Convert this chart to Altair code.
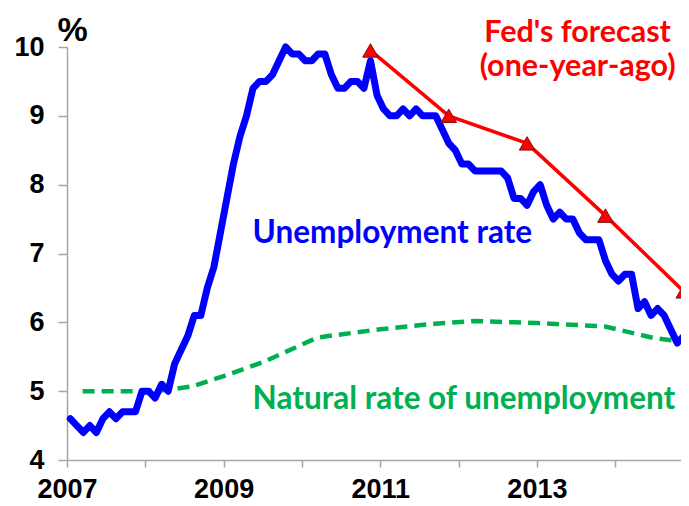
import altair as alt
import pandas as pd

# Monthly unemployment rate, Jan 2007 .. Nov 2014 (%)
start_year = 2007
unemployment = [
    4.6, 4.5, 4.4, 4.5, 4.4, 4.6, 4.7, 4.6, 4.7, 4.7, 4.7, 5.0,
    5.0, 4.9, 5.1, 5.0, 5.4, 5.6, 5.8, 6.1, 6.1, 6.5, 6.8, 7.3,
    7.8, 8.3, 8.7, 9.0, 9.4, 9.5, 9.5, 9.6, 9.8, 10.0, 9.9, 9.9,
    9.8, 9.8, 9.9, 9.9, 9.6, 9.4, 9.4, 9.5, 9.5, 9.4, 9.8, 9.3,
    9.1, 9.0, 9.0, 9.1, 9.0, 9.1, 9.0, 9.0, 9.0, 8.8, 8.6, 8.5,
    8.3, 8.3, 8.2, 8.2, 8.2, 8.2, 8.2, 8.1, 7.8, 7.8, 7.7, 7.9,
    8.0, 7.7, 7.5, 7.6, 7.5, 7.5, 7.3, 7.2, 7.2, 7.2, 6.9, 6.7,
    6.6, 6.7, 6.7, 6.2, 6.3, 6.1, 6.2, 6.1, 5.9, 5.7, 5.8,
]

# Natural rate of unemployment (dashed green)
natural_x = [2007.2, 2008.0, 2008.3, 2008.6, 2009.0, 2009.5, 2010.2, 2011.0,
             2011.7, 2012.2, 2012.7, 2013.0, 2013.87, 2014.2, 2014.5, 2014.875]
natural_y = [5.0, 5.0, 5.02, 5.07, 5.22, 5.42, 5.78, 5.9,
             5.98, 6.02, 6.0, 5.99, 5.94, 5.85, 5.77, 5.72]

# Fed's forecast made one year earlier
fed_x = [2010.875, 2011.875, 2012.875, 2013.875, 2014.875]
fed_y = [9.95, 9.0, 8.6, 7.55, 6.45]

year_ticks = [2007, 2008, 2009, 2010, 2011, 2012, 2013, 2014]
y_ticks = [4, 5, 6, 7, 8, 9, 10]

unemp_df = pd.DataFrame({
    "x": [start_year + (i + 0.5) / 12 for i in range(len(unemployment))],
    "y": unemployment,
})
nat_df = pd.DataFrame({"x": natural_x, "y": natural_y})
fed_df = pd.DataFrame({"x": fed_x, "y": fed_y})

left_labels = pd.DataFrame({
    "x": [2009.37, 2009.37],
    "y": [7.153, 4.741],
    "text": ["Unemployment rate", "Natural rate of unemployment"],
    "color": ["#0000FF", "#00B050"],
})
fed_labels = pd.DataFrame({
    "x": [2013.52, 2013.52],
    "y": [10.073, 9.579],
    "text": ["Fed's forecast", "(one-year-ago)"],
    "color": ["#FF0000", "#FF0000"],
})

AX = "Liberation Sans, Arial, sans-serif"
GREY = "#A6A6A6"

xscale = alt.Scale(domain=[2007, 2014.84], nice=False, zero=False)
yscale = alt.Scale(domain=[4, 10], nice=False, zero=False)

xaxis = alt.Axis(
    values=year_ticks, format="d",
    labelExpr="datum.value % 2 == 1 ? datum.label : ''",
    title=None, grid=False, domainColor=GREY, domainWidth=1.5,
    tickColor=GREY, tickWidth=1.5, tickSize=7, labelPadding=9,
    labelFont=AX, labelFontSize=27, labelFontWeight="bold", labelColor="black",
    labelFlush=False, labelOverlap=False,
)
yaxis = alt.Axis(
    values=y_ticks, format="d",
    title="%", titleAngle=0, titleX=5, titleY=-7, titleAlign="center",
    titleBaseline="alphabetic", titleFont=AX, titleFontSize=34,
    titleFontWeight="bold", titleColor="black",
    grid=False, domainColor=GREY, domainWidth=1.5,
    tickColor=GREY, tickWidth=1.5, tickSize=9, labelPadding=14,
    labelFont=AX, labelFontSize=27, labelFontWeight="bold", labelColor="black",
    labelFlush=False, labelOverlap=False,
)

natural = alt.Chart(nat_df).mark_line(
    color="#00B050", strokeWidth=4.5, strokeDash=[12, 7]
).encode(
    x=alt.X("x:Q", scale=xscale, axis=xaxis),
    y=alt.Y("y:Q", scale=yscale, axis=yaxis),
)

unemp = alt.Chart(unemp_df).mark_line(
    color="#0000FF", strokeWidth=7, strokeJoin="round", strokeCap="round"
).encode(x="x:Q", y="y:Q")

fed_line = alt.Chart(fed_df).mark_line(
    color="#FF0000", strokeWidth=3.5
).encode(x="x:Q", y="y:Q")

fed_pts = alt.Chart(fed_df).mark_point(
    shape="triangle-up", filled=True, size=240, fill="#FF0000",
    stroke="#7A1010", strokeWidth=1, opacity=1
).encode(x="x:Q", y="y:Q")

text_left = alt.Chart(left_labels).mark_text(
    font="Lato", fontSize=31.5, fontWeight="bold", baseline="alphabetic", align="left"
).encode(
    x="x:Q", y="y:Q", text="text:N",
    color=alt.Color("color:N", scale=None),
)

text_fed = alt.Chart(fed_labels).mark_text(
    font="Lato", fontSize=30.5, fontWeight="bold", baseline="alphabetic", align="center"
).encode(
    x="x:Q", y="y:Q", text="text:N",
    color=alt.Color("color:N", scale=None),
)

chart = alt.layer(natural, unemp, fed_line, fed_pts, text_left, text_fed).properties(
    width=614, height=413,
    autosize=alt.AutoSizeParams(type="none"),
    padding={"left": 59, "top": 39, "right": 0, "bottom": 46},
    background="white",
).configure_view(stroke=None)

chart.save("out.html", embed_options={"renderer": "svg", "actions": False})
